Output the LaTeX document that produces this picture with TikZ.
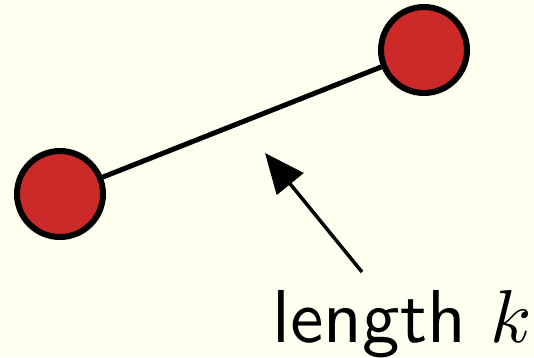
\documentclass[tikz,border=0pt]{standalone}
\usetikzlibrary{arrows.meta}
\definecolor{bgc}{RGB}{255,255,240}
\definecolor{nodered}{RGB}{204,41,41}
\begin{document}
\begin{tikzpicture}[x=1pt,y=-1pt,
  vertex/.style={circle,draw=black,line width=6pt,fill=nodered,minimum size=86pt,inner sep=0pt},
  edgeline/.style={line width=5pt},
  pointer/.style={line width=3.5pt,-{Triangle[length=40pt,width=34pt]}},
  biglabel/.style={anchor=base west,inner sep=0pt,font=\sffamily\fontsize{10}{12}\selectfont,scale=7.5,transform shape}]
\fill[bgc] (0,0) rectangle (534,357);
\useasboundingbox (0,0) rectangle (534,357);
\node[vertex] (a) at (60,194) {};
\node[vertex] (b) at (424,50) {};
\draw[edgeline] (a) -- (b);
\coordinate (tip) at (265,153);
\node[biglabel] (lab) at (271,342) {length $k$};
\coordinate (tail) at (362,272);
\draw[pointer] (tail) -- (tip);
\end{tikzpicture}
\end{document}
